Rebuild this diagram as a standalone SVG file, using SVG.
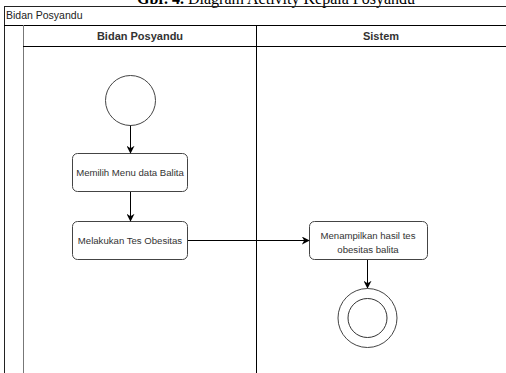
<svg xmlns="http://www.w3.org/2000/svg" width="506" height="373" viewBox="0 0 506 373">
  <defs>
    <marker id="arrow" viewBox="0 0 10 10" refX="9" refY="5" markerWidth="8" markerHeight="8" markerUnits="userSpaceOnUse" orient="auto">
      <path d="M0,0 L10,5 L0,10 L3,5 Z" fill="#000"/>
    </marker>
  </defs>
  <style>
    .caption { font-family: "Liberation Serif", "Times New Roman", serif; font-size: 16px; fill: #000; }
    .pool { font-family: "Liberation Sans", Arial, sans-serif; font-size: 10.5px; fill: #222; }
    .head { font-family: "Liberation Sans", Arial, sans-serif; font-size: 11px; font-weight: bold; fill: #333; }
    .label { font-family: "Liberation Sans", Arial, sans-serif; font-size: 9.6px; fill: #333; }
    .box { fill: #fff; stroke: #444; stroke-width: 1; }
    .line { stroke: #000; stroke-width: 1; fill: none; }
    .conn { stroke: #000; stroke-width: 1; fill: none; marker-end: url(#arrow); }
  </style>
  <rect width="506" height="373" fill="#fff"/>

  <!-- caption, cut off at the top edge -->
  <text class="caption" x="276" y="4" text-anchor="middle"><tspan font-weight="bold">Gbr. 4.</tspan> Diagram Activity Kepala Posyandu</text>

  <!-- swimlane frame -->
  <g id="pool">
    <rect x="4.5" y="6.5" width="510" height="380" fill="none" stroke="#222"/>
    <text class="pool" x="6" y="19">Bidan Posyandu</text>
    <line class="line" x1="4" y1="25.5" x2="506" y2="25.5" stroke="#555"/>
    <line x1="23.5" y1="25" x2="23.5" y2="373" stroke="#777"/>
    <line class="line" x1="23" y1="46.5" x2="506" y2="46.5" stroke="#333"/>
    <line class="line" x1="256.5" y1="25" x2="256.5" y2="373"/>
    <text class="head" x="140" y="40" text-anchor="middle">Bidan Posyandu</text>
    <text class="head" x="381" y="40" text-anchor="middle">Sistem</text>
  </g>

  <g id="start">
    <circle cx="130.5" cy="100.5" r="25" fill="#fff" stroke="#444"/>
  </g>

  <g id="memilih-menu">
    <rect class="box" x="72.5" y="153.5" width="115" height="38" rx="5"/>
    <text class="label" x="130" y="176" text-anchor="middle">Memilih Menu data Balita</text>
  </g>

  <g id="melakukan-tes">
    <rect class="box" x="72.5" y="221.5" width="115" height="38" rx="5"/>
    <text class="label" x="130" y="244" text-anchor="middle">Melakukan Tes Obesitas</text>
  </g>

  <g id="menampilkan-hasil">
    <rect class="box" x="309.5" y="221.5" width="118" height="38" rx="5"/>
    <text class="label" x="368" y="238.5" text-anchor="middle">Menampilkan hasil tes</text>
    <text class="label" x="368" y="252.5" text-anchor="middle">obesitas balita</text>
  </g>

  <g id="end">
    <circle cx="367.5" cy="318" r="29.5" fill="#fff" stroke="#444"/>
    <circle cx="367.5" cy="318" r="19.5" fill="#fff" stroke="#333"/>
  </g>

  <g id="connectors">
    <line class="conn" x1="130.5" y1="125.5" x2="130.5" y2="153"/>
    <line class="conn" x1="130.5" y1="192" x2="130.5" y2="221"/>
    <line class="conn" x1="188" y1="240.5" x2="309" y2="240.5"/>
    <line class="conn" x1="367.5" y1="260" x2="367.5" y2="288"/>
  </g>
</svg>
